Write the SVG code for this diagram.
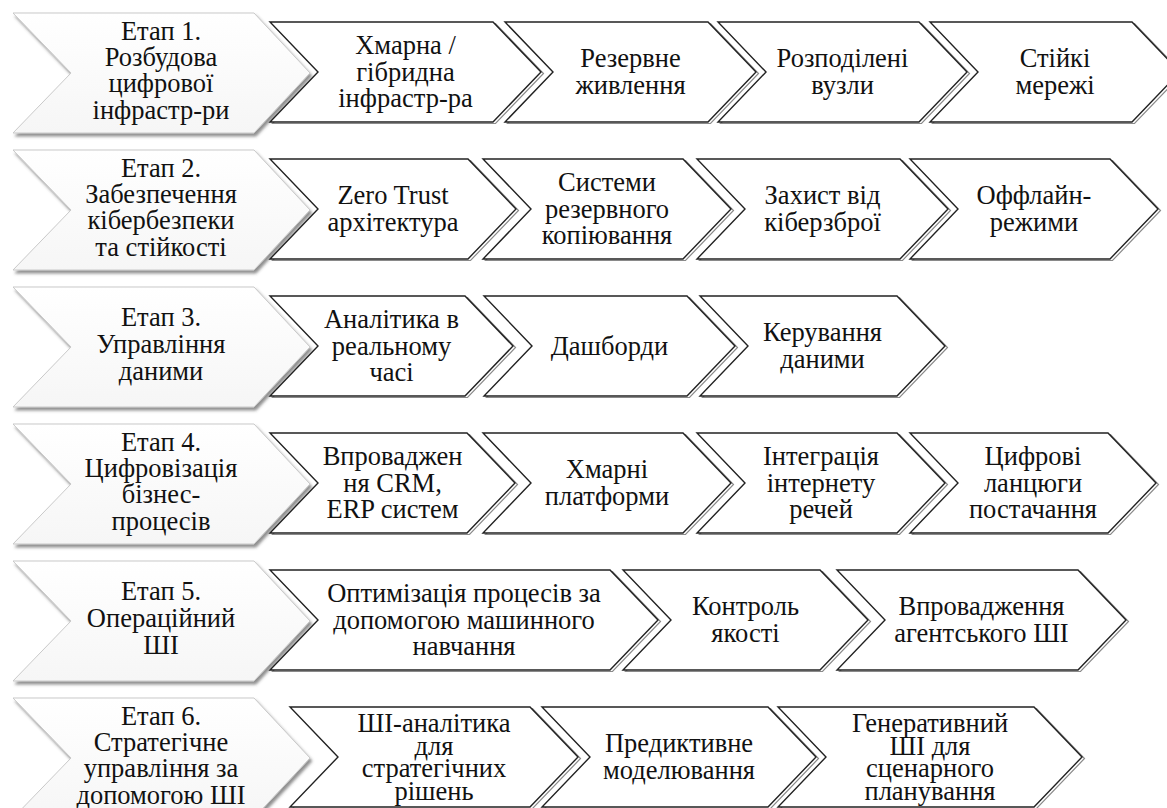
<svg xmlns="http://www.w3.org/2000/svg" width="1167" height="808" viewBox="0 0 1167 808">
<defs>
<linearGradient id="lg" x1="0" y1="0" x2="0" y2="1">
<stop offset="0" stop-color="#ffffff"/>
<stop offset="1" stop-color="#f6f6f6"/>
</linearGradient>
<filter id="ls" x="-5%" y="-5%" width="115%" height="120%">
<feDropShadow dx="2" dy="3" stdDeviation="1.6" flood-color="#444" flood-opacity="0.6"/>
</filter>
</defs>
<style>
.lt{fill:url(#lg);stroke:#c9c9c9;stroke-width:1;filter:url(#ls)}
.dk{fill:#fff;stroke:#222;stroke-width:1.4;stroke-linejoin:miter}
.dsh{fill:none;stroke:#8a8a8a;stroke-width:1.2}
text{font-family:'Liberation Serif','Times New Roman',serif;font-size:26.5px;fill:#111;text-anchor:middle}
</style>
<rect width="1167" height="808" fill="#fff"/>

<g id="stage1"><polygon class="lt" points="13,13 254,13 310,73 254,133 13,133 71,73"/>
<text><tspan x="161" y="39.5">Етап 1.</tspan><tspan x="161" y="65.8">Розбудова</tspan><tspan x="161" y="92.2">цифрової</tspan><tspan x="161" y="118.5">інфрастр-ри</tspan></text></g>
<g id="stage2"><polygon class="lt" points="13,150 254,150 310,210 254,270 13,270 71,210"/>
<text><tspan x="161" y="176.5">Етап 2.</tspan><tspan x="161" y="202.8">Забезпечення</tspan><tspan x="161" y="229.2">кібербезпеки</tspan><tspan x="161" y="255.5">та стійкості</tspan></text></g>
<g id="stage3"><polygon class="lt" points="13,287 254,287 310,347 254,407 13,407 71,347"/>
<text><tspan x="161" y="326">Етап 3.</tspan><tspan x="161" y="353">Управління</tspan><tspan x="161" y="380">даними</tspan></text></g>
<g id="stage4"><polygon class="lt" points="13,424 254,424 310,484 254,544 13,544 71,484"/>
<text><tspan x="161" y="450.5">Етап 4.</tspan><tspan x="161" y="476.8">Цифровізація</tspan><tspan x="161" y="503.2">бізнес-</tspan><tspan x="161" y="529.5">процесів</tspan></text></g>
<g id="stage5"><polygon class="lt" points="13,561 254,561 310,621 254,681 13,681 71,621"/>
<text><tspan x="161" y="600">Етап 5.</tspan><tspan x="161" y="627">Операційний</tspan><tspan x="161" y="654">ШІ</tspan></text></g>
<g id="stage6"><polygon class="lt" points="13,698 254,698 310,758 254,818 13,818 71,758"/>
<text><tspan x="161" y="724.5">Етап 6.</tspan><tspan x="161" y="750.8">Стратегічне</tspan><tspan x="161" y="777.2">управління за</tspan><tspan x="161" y="803.5">допомогою ШІ</tspan></text></g>

<g id="r1a"><polygon class="dsh" transform="translate(2.5,1.5)" points="270,22 493,22 541,72 493,122 270,122 318,72"/><polygon class="dk" points="270,22 493,22 541,72 493,122 270,122 318,72"/>
<text><tspan x="405.5" y="54">Хмарна /</tspan><tspan x="405.5" y="80.5">гібридна</tspan><tspan x="405.5" y="107">інфрастр-ра</tspan></text></g>
<g id="r1b"><polygon class="dsh" transform="translate(2.5,1.5)" points="505,22 708,22 756,72 708,122 505,122 553,72"/><polygon class="dk" points="505,22 708,22 756,72 708,122 505,122 553,72"/>
<text><tspan x="630.5" y="67">Резервне</tspan><tspan x="630.5" y="94">живлення</tspan></text></g>
<g id="r1c"><polygon class="dsh" transform="translate(2.5,1.5)" points="718,22 919,22 967,72 919,122 718,122 766,72"/><polygon class="dk" points="718,22 919,22 967,72 919,122 718,122 766,72"/>
<text><tspan x="842.5" y="67">Розподілені</tspan><tspan x="842.5" y="94">вузли</tspan></text></g>
<g id="r1d"><polygon class="dsh" transform="translate(2.5,1.5)" points="930,22 1132,22 1180,72 1132,122 930,122 978,72"/><polygon class="dk" points="930,22 1132,22 1180,72 1132,122 930,122 978,72"/>
<text><tspan x="1055" y="67">Стійкі</tspan><tspan x="1055" y="94">мережі</tspan></text></g>

<g id="r2a"><polygon class="dsh" transform="translate(2.5,1.5)" points="270,159 468,159 516,209 468,259 270,259 318,209"/><polygon class="dk" points="270,159 468,159 516,209 468,259 270,259 318,209"/>
<text><tspan x="393" y="204">Zero Trust</tspan><tspan x="393" y="231">архітектура</tspan></text></g>
<g id="r2b"><polygon class="dsh" transform="translate(2.5,1.5)" points="483,159 683,159 731,209 683,259 483,259 531,209"/><polygon class="dk" points="483,159 683,159 731,209 683,259 483,259 531,209"/>
<text><tspan x="607" y="191">Системи</tspan><tspan x="607" y="217.5">резервного</tspan><tspan x="607" y="244">копіювання</tspan></text></g>
<g id="r2c"><polygon class="dsh" transform="translate(2.5,1.5)" points="697,159 900,159 948,209 900,259 697,259 745,209"/><polygon class="dk" points="697,159 900,159 948,209 900,259 697,259 745,209"/>
<text><tspan x="822.5" y="204">Захист від</tspan><tspan x="822.5" y="231">кіберзброї</tspan></text></g>
<g id="r2d"><polygon class="dsh" transform="translate(2.5,1.5)" points="910,159 1110,159 1158,209 1110,259 910,259 958,209"/><polygon class="dk" points="910,159 1110,159 1158,209 1110,259 910,259 958,209"/>
<text><tspan x="1034" y="204">Оффлайн-</tspan><tspan x="1034" y="231">режими</tspan></text></g>

<g id="r3a"><polygon class="dsh" transform="translate(2.5,1.5)" points="270,296 465,296 513,346 465,396 270,396 318,346"/><polygon class="dk" points="270,296 465,296 513,346 465,396 270,396 318,346"/>
<text><tspan x="391.5" y="328">Аналітика в</tspan><tspan x="391.5" y="354.5">реальному</tspan><tspan x="391.5" y="381">часі</tspan></text></g>
<g id="r3b"><polygon class="dsh" transform="translate(2.5,1.5)" points="484,296 687,296 735,346 687,396 484,396 532,346"/><polygon class="dk" points="484,296 687,296 735,346 687,396 484,396 532,346"/>
<text><tspan x="609.5" y="354.5">Дашборди</tspan></text></g>
<g id="r3c"><polygon class="dsh" transform="translate(2.5,1.5)" points="700,296 897,296 945,346 897,396 700,396 748,346"/><polygon class="dk" points="700,296 897,296 945,346 897,396 700,396 748,346"/>
<text><tspan x="822.5" y="341">Керування</tspan><tspan x="822.5" y="368">даними</tspan></text></g>

<g id="r4a"><polygon class="dsh" transform="translate(2.5,1.5)" points="270,433 467,433 515,483 467,533 270,533 318,483"/><polygon class="dk" points="270,433 467,433 515,483 467,533 270,533 318,483"/>
<text><tspan x="392.5" y="465">Впроваджен</tspan><tspan x="392.5" y="491.5">ня CRM,</tspan><tspan x="392.5" y="518">ERP систем</tspan></text></g>
<g id="r4b"><polygon class="dsh" transform="translate(2.5,1.5)" points="483,433 683,433 731,483 683,533 483,533 531,483"/><polygon class="dk" points="483,433 683,433 731,483 683,533 483,533 531,483"/>
<text><tspan x="607" y="478">Хмарні</tspan><tspan x="607" y="505">платформи</tspan></text></g>
<g id="r4c"><polygon class="dsh" transform="translate(2.5,1.5)" points="697,433 897,433 945,483 897,533 697,533 745,483"/><polygon class="dk" points="697,433 897,433 945,483 897,533 697,533 745,483"/>
<text><tspan x="821" y="465">Інтеграція</tspan><tspan x="821" y="491.5">інтернету</tspan><tspan x="821" y="518">речей</tspan></text></g>
<g id="r4d"><polygon class="dsh" transform="translate(2.5,1.5)" points="910,433 1108,433 1156,483 1108,533 910,533 958,483"/><polygon class="dk" points="910,433 1108,433 1156,483 1108,533 910,533 958,483"/>
<text><tspan x="1033" y="465">Цифрові</tspan><tspan x="1033" y="491.5">ланцюги</tspan><tspan x="1033" y="518">постачання</tspan></text></g>

<g id="r5a"><polygon class="dsh" transform="translate(2.5,1.5)" points="270,570 610,570 658,620 610,670 270,670 318,620"/><polygon class="dk" points="270,570 610,570 658,620 610,670 270,670 318,620"/>
<text><tspan x="464" y="602">Оптимізація процесів за</tspan><tspan x="464" y="628.5">допомогою машинного</tspan><tspan x="464" y="655">навчання</tspan></text></g>
<g id="r5b"><polygon class="dsh" transform="translate(2.5,1.5)" points="623,570 820,570 868,620 820,670 623,670 671,620"/><polygon class="dk" points="623,570 820,570 868,620 820,670 623,670 671,620"/>
<text><tspan x="745.5" y="615">Контроль</tspan><tspan x="745.5" y="642">якості</tspan></text></g>
<g id="r5c"><polygon class="dsh" transform="translate(2.5,1.5)" points="837,570 1078,570 1126,620 1078,670 837,670 885,620"/><polygon class="dk" points="837,570 1078,570 1126,620 1078,670 837,670 885,620"/>
<text><tspan x="981.5" y="615">Впровадження</tspan><tspan x="981.5" y="642">агентського ШІ</tspan></text></g>

<g id="r6a"><polygon class="dsh" transform="translate(2.5,1.5)" points="290,707 530,707 578,757 530,807 290,807 338,757"/><polygon class="dk" points="290,707 530,707 578,757 530,807 290,807 338,757"/>
<text><tspan x="434" y="732">ШІ-аналітика</tspan><tspan x="434" y="754.5">для</tspan><tspan x="434" y="777">стратегічних</tspan><tspan x="434" y="799.5">рішень</tspan></text></g>
<g id="r6b"><polygon class="dsh" transform="translate(2.5,1.5)" points="542,707 768,707 816,757 768,807 542,807 590,757"/><polygon class="dk" points="542,707 768,707 816,757 768,807 542,807 590,757"/>
<text><tspan x="679" y="752">Предиктивне</tspan><tspan x="679" y="779">моделювання</tspan></text></g>
<g id="r6c"><polygon class="dsh" transform="translate(2.5,1.5)" points="778,707 1034,707 1082,757 1034,807 778,807 826,757"/><polygon class="dk" points="778,707 1034,707 1082,757 1034,807 778,807 826,757"/>
<text><tspan x="930" y="732">Генеративний</tspan><tspan x="930" y="754.5">ШІ для</tspan><tspan x="930" y="777">сценарного</tspan><tspan x="930" y="799.5">планування</tspan></text></g>
</svg>
